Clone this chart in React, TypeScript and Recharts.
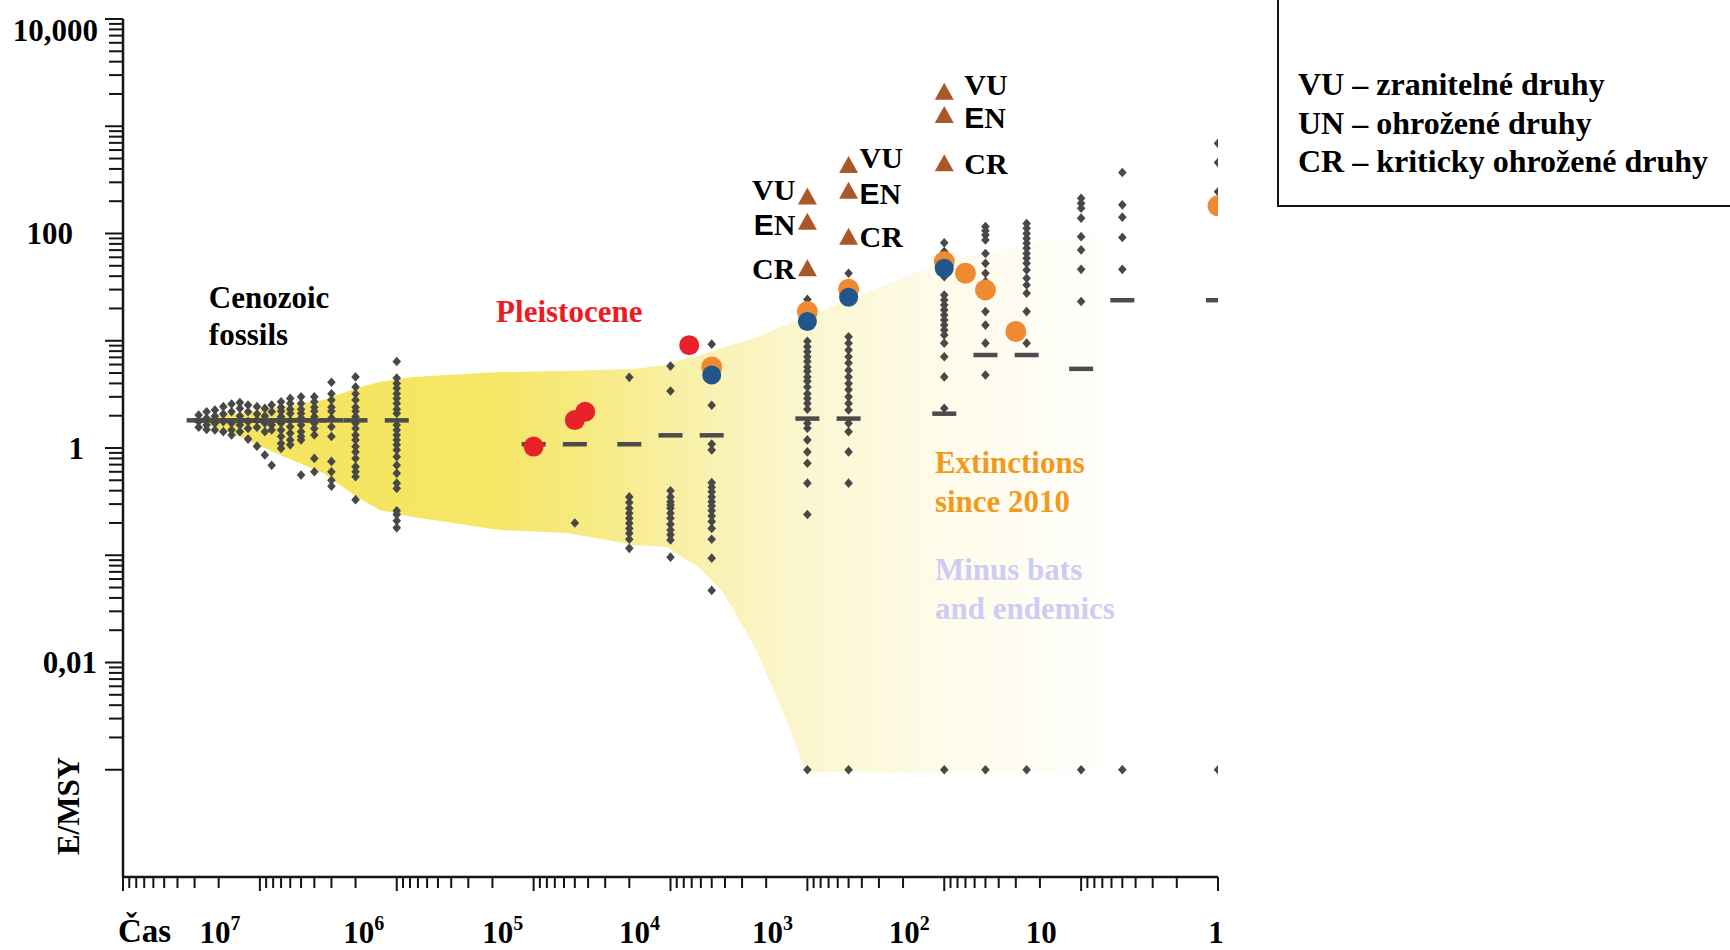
import React from "react";
import { Area, ComposedChart, Scatter, XAxis, YAxis } from "recharts";

const SERIF = '"Liberation Serif", "Times New Roman", serif';
const SANS = '"Liberation Sans", Arial, sans-serif';
const INK = "#151515";
const DOT = "#484848";

// E/MSY values per time bin (years before present), fossil record
const FOSSIL_COLUMNS = [
  { t: 2.8e7, v: [2.03, 1.76, 1.56] },
  { t: 2.45e7, v: [2.18, 1.89, 1.64, 1.49] },
  { t: 2.13e7, v: [2.26, 1.99, 1.7, 1.47] },
  { t: 1.85e7, v: [2.43, 2.07, 1.76, 1.42] },
  { t: 1.61e7, v: [2.57, 2.18, 1.7, 1.47, 1.32] },
  { t: 1.4e7, v: [2.65, 2.34, 1.99, 1.64, 1.42] },
  { t: 1.22e7, v: [2.52, 2.18, 1.76, 1.52, 1.21] },
  { t: 1.05e7, v: [2.43, 2.07, 1.82, 1.56, 1.04] },
  { t: 9.2e6, v: [2.34, 1.99, 1.7, 1.42, 0.86] },
  { t: 8.2e6, v: [2.52, 2.18, 1.64, 1.47, 0.69] },
  { t: 7e6, v: [2.7, 2.4, 2.2, 1.96, 1.7, 1.47, 1.28, 1.1, 0.99] },
  { t: 6e6, v: [2.9, 2.6, 2.3, 2.1, 1.8, 1.58, 1.37, 1.19, 1.07] },
  { t: 5e6, v: [3.0, 2.6, 2.3, 2.1, 1.9, 1.64, 1.42, 1.28, 1.19, 0.56] },
  { t: 4e6, v: [3.0, 2.7, 2.4, 2.2, 1.96, 1.7, 1.52, 1.32, 0.8, 0.6] },
  { t: 3e6, v: [4.1, 3.2, 2.8, 2.4, 2.2, 1.9, 1.58, 1.28, 0.75, 0.6, 0.5, 0.44] },
  { t: 2e6, v: [4.6, 3.7, 3.2, 2.8, 2.4, 2.2, 1.96, 1.7, 1.52, 1.32, 1.19, 1.03, 0.92, 0.8, 0.67, 0.6, 0.54, 0.33] },
  { t: 1e6, v: [6.4, 4.5, 4.0, 3.6, 3.2, 2.9, 2.6, 2.3, 2.1, 1.64, 1.47, 1.32, 1.19, 1.07, 0.96, 0.83, 0.69, 0.58, 0.47, 0.42, 0.26, 0.24, 0.21, 0.18] },
  { t: 5e4, v: [0.2] },
  { t: 2e4, v: [4.56, 0.35, 0.31, 0.274, 0.246, 0.221, 0.199, 0.178, 0.16, 0.141, 0.116] },
  { t: 1e4, v: [5.8, 3.4, 0.4, 0.35, 0.316, 0.294, 0.274, 0.246, 0.221, 0.195, 0.172, 0.155, 0.139, 0.096] },
  { t: 5e3, v: [9.3, 2.5, 1.09, 0.96, 0.475, 0.43, 0.39, 0.35, 0.316, 0.288, 0.26, 0.232, 0.206, 0.178, 0.141, 0.094, 0.047] },
];

// modern records
const RECENT_COLUMNS = [
  { t: 1000, v: [24.3, 9.9, 8.8, 7.9, 7.1, 6.4, 5.7, 5.2, 4.6, 4.2, 3.7, 3.2, 2.9, 2.6, 2.3, 1.7, 1.53, 1.19, 0.92, 0.72, 0.47, 0.24, 0.001] },
  { t: 500, v: [42.6, 10.9, 9.5, 8.2, 7.1, 6.2, 5.3, 4.6, 4.0, 3.5, 3.0, 2.6, 2.26, 1.7, 1.42, 0.92, 0.47, 0.001] },
  { t: 100, v: [82, 67.8, 39.6, 26.7, 24, 21.6, 19.4, 17.4, 15.6, 14, 12.6, 11.3, 9.5, 7.1, 4.6, 2.35, 0.001] },
  { t: 50, v: [116, 106, 97, 87, 65, 52.7, 42.6, 35.6, 18.7, 14, 9.5, 4.8, 0.001] },
  { t: 25, v: [124, 112, 100, 90, 81, 73, 65, 58.7, 52.7, 45.7, 38.2, 33.1, 27.7, 18.7, 9.5, 0.001] },
  { t: 10, v: [213, 191, 172, 139, 93.5, 70.3, 46.3, 23.2, 0.001] },
  { t: 5, v: [370, 185, 142, 92, 46.3, 0.001] },
  { t: 1, v: [693, 458, 245, 0.001] },
];

const MEDIANS = [
  { t: 2.8e7, v: 1.82 }, { t: 2.45e7, v: 1.82 }, { t: 2.13e7, v: 1.82 }, { t: 1.85e7, v: 1.82 },
  { t: 1.61e7, v: 1.82 }, { t: 1.4e7, v: 1.82 }, { t: 1.22e7, v: 1.82 }, { t: 1.05e7, v: 1.82 },
  { t: 9.2e6, v: 1.82 }, { t: 8.2e6, v: 1.82 }, { t: 7e6, v: 1.82 }, { t: 6e6, v: 1.82 },
  { t: 5e6, v: 1.82 }, { t: 4e6, v: 1.82 }, { t: 3e6, v: 1.82 }, { t: 2e6, v: 1.82 }, { t: 1e6, v: 1.82 },
  { t: 1e5, v: 1.09 }, { t: 5e4, v: 1.09 }, { t: 2e4, v: 1.09 }, { t: 1e4, v: 1.32 }, { t: 5e3, v: 1.32 },
  { t: 1000, v: 1.89 }, { t: 500, v: 1.89 }, { t: 100, v: 2.1 }, { t: 50, v: 7.4 }, { t: 25, v: 7.4 },
  { t: 10, v: 5.5 }, { t: 5, v: 24 }, { t: 1, v: 24 },
];

const PLEISTOCENE = [
  { t: 1e5, v: 1.03 },
  { t: 5e4, v: 1.82 },
  { t: 4.2e4, v: 2.18 },
  { t: 7.3e3, v: 9.1 },
];

const SINCE_2010 = [
  { t: 5e3, v: 5.7 },
  { t: 1000, v: 18.7 },
  { t: 500, v: 30.2 },
  { t: 100, v: 54.7 },
  { t: 70, v: 42.6 },
  { t: 50, v: 29.8 },
  { t: 30, v: 12.2 },
  { t: 1, v: 181 },
];

const MINUS_BATS = [
  { t: 5e3, v: 4.8 },
  { t: 1000, v: 15.1 },
  { t: 500, v: 25.4 },
  { t: 100, v: 47.4 },
];

const THREAT_CATEGORIES = ["VU", "EN", "CR"];
const THREATENED = [
  { t: 1000, v: [221, 129, 47.4] },
  { t: 500, v: [436, 251, 93.5] },
  { t: 100, v: [2100, 1274, 452] },
];

// envelope of the shaded band: lower / upper E/MSY at each time
const BAND = [
  { t: 2.74e7, lo: 1.75, hi: 1.91 },
  { t: 1.4e7, lo: 1.27, hi: 2.12 },
  { t: 7.1e6, lo: 0.86, hi: 2.41 },
  { t: 3.46e6, lo: 0.585, hi: 2.8 },
  { t: 1.95e6, lo: 0.349, hi: 3.62 },
  { t: 1.33e6, lo: 0.264, hi: 4.12 },
  { t: 7.6e5, lo: 0.227, hi: 4.59 },
  { t: 1.76e5, lo: 0.172, hi: 5.11 },
  { t: 5.7e4, lo: 0.161, hi: 5.22 },
  { t: 1.88e4, lo: 0.125, hi: 5.46 },
  { t: 1.06e4, lo: 0.119, hi: 5.95 },
  { t: 7.6e3, lo: 0.09, hi: 6.9 },
  { t: 6.3e3, lo: 0.078, hi: 7.2 },
  { t: 4.2e3, lo: 0.047, hi: 8.6 },
  { t: 2.42e3, lo: 0.0139, hi: 10.6 },
  { t: 1.49e3, lo: 0.0034, hi: 13.7 },
  { t: 1.03e3, lo: 0.00095, hi: 16.6 },
  { t: 92, lo: 0.00093, hi: 57.8 },
  { t: 4.4, lo: 0.00093, hi: 120 },
];

const NOTES = [
  { t: 2.36e7, v: 20.2, text: "Cenozoic", color: "#000" },
  { t: 2.36e7, v: 9.1, text: "fossils", color: "#000" },
  { t: 1.88e5, v: 15.0, text: "Pleistocene", color: "#EE1B22" },
  { t: 117, v: 0.585, text: "Extinctions", color: "#F39A1E" },
  { t: 117, v: 0.253, text: "since 2010", color: "#F39A1E" },
  { t: 117, v: 0.0588, text: "Minus bats", color: "#CDCDF4" },
  { t: 117, v: 0.0255, text: "and endemics", color: "#CDCDF4" },
];

const LEGEND_LINES = [
  "VU – zranitelné druhy",
  "UN – ohrožené druhy",
  "CR – kriticky ohrožené druhy",
];

const logTicks = (from: number, to: number) => {
  const out: number[] = [];
  for (let e = from; e < to; e++) for (let m = 1; m < 10; m++) out.push(m * Math.pow(10, e));
  out.push(Math.pow(10, to));
  return out;
};
const X_TICKS = logTicks(0, 8);
const Y_TICKS = logTicks(-3, 4);

const diamonds = [...FOSSIL_COLUMNS, ...RECENT_COLUMNS].flatMap((c) =>
  c.v.map((v) => ({ t: c.t, v })),
);
const triangles = THREATENED.flatMap((g, gi) =>
  g.v.map((v, i) => ({ t: g.t, v, cat: THREAT_CATEGORIES[i], group: gi })),
);

function decade(value: number) {
  const lg = Math.log10(value);
  const e = Math.round(lg);
  return { e, major: Math.abs(lg - e) < 1e-6 };
}

const X_LABEL_SHIFT: Record<number, number> = { 7: -40, 6: -33, 5: -31, 4: -31, 3: -35, 2: -35, 1: -40, 0: -2 };

function TimeTick(props: any) {
  const { x, y, payload } = props;
  const { e, major } = decade(payload.value);
  return (
    <g>
      <line x1={x} x2={x} y1={y} y2={y + (major ? 14 : 11)} stroke={INK} strokeWidth={2} />
      {major && e <= 7 && (
        <text
          x={x + X_LABEL_SHIFT[e]}
          y={y + 66}
          textAnchor="middle"
          fontFamily={SERIF}
          fontWeight="bold"
          fontSize={31}
          fill="#000"
        >
          {e === 0 ? "1" : "10"}
          {e >= 2 && (
            <tspan dy={-13} fontSize={20}>
              {e}
            </tspan>
          )}
        </text>
      )}
    </g>
  );
}

const Y_LABELS: Record<number, [string, number, number]> = {
  4: ["10,000", -25, 11],
  2: ["100", -50, 0],
  0: ["1", -39, 0],
  [-2]: ["0,01", -26, 0],
};

function RateTick(props: any) {
  const { x, y, payload } = props;
  const { e, major } = decade(payload.value);
  const lab = major ? Y_LABELS[e] : undefined;
  return (
    <g>
      <line x1={x - (major ? 18 : 14)} x2={x} y1={y} y2={y} stroke={INK} strokeWidth={2} />
      {lab && (
        <text
          x={x + lab[1]}
          y={y + lab[2]}
          textAnchor="end"
          dominantBaseline="central"
          fontFamily={SERIF}
          fontWeight="bold"
          fontSize={31}
          fill="#000"
        >
          {lab[0]}
        </text>
      )}
    </g>
  );
}

const Diamond = ({ cx, cy }: any) => (
  <path d={`M${cx},${cy - 4.8}L${cx + 4.3},${cy}L${cx},${cy + 4.8}L${cx - 4.3},${cy}Z`} fill={DOT} />
);

const Dash = ({ cx, cy }: any) => <rect x={cx - 12} y={cy - 2} width={24} height={4.5} fill="#4c4c4c" />;

const dot = (fill: string, r: number) => ({ cx, cy }: any) => <circle cx={cx} cy={cy} r={r} fill={fill} />;

const THREAT_LABEL_DX = [-12, 11, 20];
const THREAT_LABEL_DY: Record<string, number> = { VU: -7, EN: 2, CR: 0 };

const Triangle = ({ cx, cy, payload }: any) => {
  const dx = THREAT_LABEL_DX[payload.group];
  const dy = THREAT_LABEL_DY[payload.cat];
  return (
    <g>
      <path d={`M${cx},${cy - 9}L${cx + 9.5},${cy + 8}L${cx - 9.5},${cy + 8}Z`} fill="#A9582A" />
      <text
        x={cx + dx}
        y={cy + dy}
        textAnchor={dx < 0 ? "end" : "start"}
        dominantBaseline="central"
        fontFamily={SERIF}
        fontWeight="bold"
        fontSize={30}
        fill="#000"
      >
        {payload.cat === "EN" ? (
          <>
            <tspan fontFamily={SANS}>E</tspan>
            <tspan>N</tspan>
          </>
        ) : (
          payload.cat
        )}
      </text>
    </g>
  );
};

const Note = ({ cx, cy, payload }: any) => (
  <text x={cx} y={cy} fontFamily={SERIF} fontWeight="bold" fontSize={31} fill={payload.color}>
    {payload.text}
  </text>
);

export default function App() {
  return (
    <div style={{ position: "relative", width: 1730, height: 950, background: "#fff", overflow: "hidden" }}>
      <style>{"html,body{margin:0;padding:0;background:#fff}"}</style>
      <ComposedChart width={1730} height={950} margin={{ top: 19, right: 512, bottom: 13, left: 63 }}>
        <defs>
          <linearGradient id="bandFade" gradientUnits="userSpaceOnUse" x1={195} y1={0} x2={1135} y2={0}>
            <stop offset="0" stopColor="#F4E35C" />
            <stop offset="0.32" stopColor="#F5E666" />
            <stop offset="0.43" stopColor="#F7EB86" />
            <stop offset="0.54" stopColor="#F9F1AF" />
            <stop offset="0.64" stopColor="#FBF6CE" />
            <stop offset="0.8" stopColor="#FEFBEA" />
            <stop offset="1" stopColor="#FFFFFF" />
          </linearGradient>
        </defs>
        <Area
          data={BAND}
          dataKey={(d: any) => [d.lo, d.hi]}
          type="linear"
          stroke="none"
          fill="url(#bandFade)"
          fillOpacity={1}
          isAnimationActive={false}
        />
        <XAxis
          type="number"
          dataKey="t"
          scale="log"
          domain={[1, 1e8]}
          reversed
          allowDataOverflow
          ticks={X_TICKS}
          interval={0}
          tick={<TimeTick />}
          tickLine={false}
          tickSize={0}
          tickMargin={0}
          height={60}
          axisLine={{ stroke: INK, strokeWidth: 2.5 }}
        />
        <YAxis
          type="number"
          dataKey="v"
          scale="log"
          domain={[1e-4, 1e4]}
          allowDataOverflow
          ticks={Y_TICKS}
          interval={0}
          tick={<RateTick />}
          tickLine={false}
          tickSize={0}
          tickMargin={0}
          width={60}
          axisLine={{ stroke: INK, strokeWidth: 2.5 }}
        />
        <Scatter data={MEDIANS} shape={Dash} isAnimationActive={false} />
        <Scatter data={diamonds} shape={Diamond} isAnimationActive={false} />
        <Scatter data={SINCE_2010} shape={dot("#EF8A33", 10.5)} isAnimationActive={false} />
        <Scatter data={MINUS_BATS} shape={dot("#22568A", 9.5)} isAnimationActive={false} />
        <Scatter data={PLEISTOCENE} shape={dot("#E8222A", 10)} isAnimationActive={false} />
        <Scatter data={triangles} shape={Triangle} isAnimationActive={false} />
        <Scatter data={NOTES} shape={Note} isAnimationActive={false} />
      </ComposedChart>
      <svg
        width={1730}
        height={950}
        style={{ position: "absolute", left: 0, top: 0, pointerEvents: "none" }}
      >
        <path d="M1278,-5L1278,206L1735,206" fill="none" stroke={INK} strokeWidth={2} />
        {LEGEND_LINES.map((line, i) => (
          <text
            key={line}
            x={1298}
            y={95 + i * 38.5}
            fontFamily={SERIF}
            fontWeight="bold"
            fontSize={32}
            fill="#000"
          >
            {line}
          </text>
        ))}
        <text
          x={0}
          y={0}
          transform="translate(79,806) rotate(-90)"
          textAnchor="middle"
          fontFamily={SERIF}
          fontWeight="bold"
          fontSize={31}
          fill="#000"
        >
          E/MSY
        </text>
        <text x={118} y={942} fontFamily={SERIF} fontWeight="bold" fontSize={33} fill="#000">
          Čas
        </text>
      </svg>
    </div>
  );
}
